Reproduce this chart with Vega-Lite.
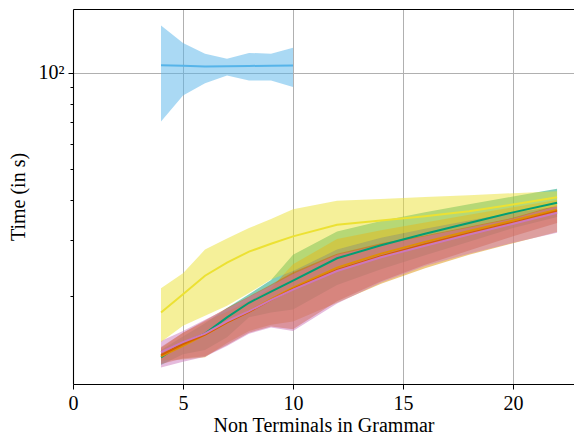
{
  "$schema": "https://vega.github.io/schema/vega-lite/v6.json",
  "autosize": "none",
  "width": 501,
  "height": 375,
  "padding": {"left": 73, "top": 9, "right": 0, "bottom": 54},
  "config": {
    "view": {"stroke": null},
    "font": "Liberation Serif",
    "axis": {"labelFont": "Liberation Serif", "titleFont": "Liberation Serif", "labelFontSize": 20, "titleFontSize": 20, "titleFontWeight": "normal", "labelColor": "black", "titleColor": "black", "domainColor": "black", "tickColor": "black", "gridColor": "#b0b0b0", "gridWidth": 1, "domainWidth": 1.1, "labelFlush": false}
  },
  "data": {"values": [
    {"s":"a","x":4,"m":12.9,"lo":12.2,"hi":13.6},
    {"s":"a","x":5,"m":14.3,"lo":13.2,"hi":15.0},
    {"s":"a","x":6,"m":15.3,"lo":13.6,"hi":16.5},
    {"s":"a","x":7,"m":17.2,"lo":14.9,"hi":18.4},
    {"s":"a","x":8,"m":19.1,"lo":17.2,"hi":20.3},
    {"s":"a","x":9,"m":20.7,"lo":17.8,"hi":22.5},
    {"s":"a","x":10,"m":22.4,"lo":18.2,"hi":27.0},
    {"s":"a","x":12,"m":26.3,"lo":21.7,"hi":31.9},
    {"s":"a","x":14,"m":28.9,"lo":24.3,"hi":34.4},
    {"s":"a","x":16,"m":31.4,"lo":26.9,"hi":36.6},
    {"s":"a","x":18,"m":33.9,"lo":29.6,"hi":38.8},
    {"s":"a","x":20,"m":36.6,"lo":32.7,"hi":41.0},
    {"s":"a","x":22,"m":39.2,"lo":35.4,"hi":43.4},
    {"s":"b","x":4,"m":13.0,"lo":12.6,"hi":13.8},
    {"s":"b","x":5,"m":14.0,"lo":12.7,"hi":15.4},
    {"s":"b","x":6,"m":15.2,"lo":12.9,"hi":16.7},
    {"s":"b","x":7,"m":16.6,"lo":14.3,"hi":17.9},
    {"s":"b","x":8,"m":18.0,"lo":15.6,"hi":19.3},
    {"s":"b","x":9,"m":19.6,"lo":16.3,"hi":21.2},
    {"s":"b","x":10,"m":21.3,"lo":16.7,"hi":25.2},
    {"s":"b","x":12,"m":24.6,"lo":19.1,"hi":30.2},
    {"s":"b","x":14,"m":27.2,"lo":21.9,"hi":32.2},
    {"s":"b","x":16,"m":29.6,"lo":24.5,"hi":34.0},
    {"s":"b","x":18,"m":32.0,"lo":27.0,"hi":36.0},
    {"s":"b","x":20,"m":34.5,"lo":29.3,"hi":38.0},
    {"s":"b","x":22,"m":37.3,"lo":31.8,"hi":40.0},
    {"s":"c","x":4,"m":13.1,"lo":12.3,"hi":13.9},
    {"s":"c","x":5,"m":14.2,"lo":12.8,"hi":15.4},
    {"s":"c","x":6,"m":15.2,"lo":13.0,"hi":16.8},
    {"s":"c","x":7,"m":16.6,"lo":14.1,"hi":18.4},
    {"s":"c","x":8,"m":17.9,"lo":15.4,"hi":20.0},
    {"s":"c","x":9,"m":19.5,"lo":16.1,"hi":21.8},
    {"s":"c","x":10,"m":21.1,"lo":15.8,"hi":23.8},
    {"s":"c","x":12,"m":24.2,"lo":19.3,"hi":27.2},
    {"s":"c","x":14,"m":26.7,"lo":22.3,"hi":29.3},
    {"s":"c","x":16,"m":29.1,"lo":25.1,"hi":31.0},
    {"s":"c","x":18,"m":31.5,"lo":27.8,"hi":33.0},
    {"s":"c","x":20,"m":34.0,"lo":30.8,"hi":35.2},
    {"s":"c","x":22,"m":36.9,"lo":33.9,"hi":38.5},
    {"s":"d","x":4,"m":13.4,"lo":12.0,"hi":14.5},
    {"s":"d","x":5,"m":14.4,"lo":12.5,"hi":15.6},
    {"s":"d","x":6,"m":15.3,"lo":12.95,"hi":16.9},
    {"s":"d","x":7,"m":16.7,"lo":14.0,"hi":18.3},
    {"s":"d","x":8,"m":18.0,"lo":15.3,"hi":19.9},
    {"s":"d","x":9,"m":19.5,"lo":16.0,"hi":21.6},
    {"s":"d","x":10,"m":21.0,"lo":15.6,"hi":23.5},
    {"s":"d","x":12,"m":24.0,"lo":19.0,"hi":27.0},
    {"s":"d","x":14,"m":26.5,"lo":22.1,"hi":29.0},
    {"s":"d","x":16,"m":28.8,"lo":24.9,"hi":30.8},
    {"s":"d","x":18,"m":31.2,"lo":27.2,"hi":32.8},
    {"s":"d","x":20,"m":33.7,"lo":29.4,"hi":35.0},
    {"s":"d","x":22,"m":36.5,"lo":31.6,"hi":38.3},
    {"s":"e","x":4,"m":17.8,"lo":14.4,"hi":21.2},
    {"s":"e","x":5,"m":20.3,"lo":16.2,"hi":23.6},
    {"s":"e","x":6,"m":23.2,"lo":17.4,"hi":28.0},
    {"s":"e","x":7,"m":25.5,"lo":18.7,"hi":30.3},
    {"s":"e","x":8,"m":27.6,"lo":20.5,"hi":32.7},
    {"s":"e","x":9,"m":29.2,"lo":22.6,"hi":34.9},
    {"s":"e","x":10,"m":30.8,"lo":24.0,"hi":37.4},
    {"s":"e","x":12,"m":33.5,"lo":28.0,"hi":39.8},
    {"s":"e","x":14,"m":34.5,"lo":30.5,"hi":40.3},
    {"s":"e","x":16,"m":35.6,"lo":32.5,"hi":40.9},
    {"s":"e","x":18,"m":36.9,"lo":34.5,"hi":41.4},
    {"s":"e","x":20,"m":38.7,"lo":36.5,"hi":42.0},
    {"s":"e","x":22,"m":40.8,"lo":38.2,"hi":42.6},
    {"s":"f","x":4,"m":105.4,"lo":70.4,"hi":140.3},
    {"s":"f","x":5,"m":105.0,"lo":84.8,"hi":123.8},
    {"s":"f","x":6,"m":104.5,"lo":92.7,"hi":114.6},
    {"s":"f","x":7,"m":104.6,"lo":97.9,"hi":110.4},
    {"s":"f","x":8,"m":104.9,"lo":94.4,"hi":115.2},
    {"s":"f","x":9,"m":105.1,"lo":94.4,"hi":114.6},
    {"s":"f","x":10,"m":105.3,"lo":90.2,"hi":119.5}
  ]},
  "resolve": {"axis": {"x": "independent", "y": "independent"}},
  "layer": [
    {
      "mark": {"type": "area", "opacity": 0.5, "interpolate": "linear"},
      "encoding": {
        "x": {"field": "x", "type": "quantitative", "scale": {"domain": [0, 22.77], "nice": false, "zero": false},
              "axis": {"values": [0, 5, 10, 15, 20], "grid": true, "tickSize": 5, "labelPadding": 4, "title": "Non Terminals in Grammar", "titleBaseline": "alphabetic", "titleY": 47, "labelAngle": 0}},
        "y": {"field": "lo", "type": "quantitative", "scale": {"type": "log", "domain": [10.65, 158], "nice": false},
              "axis": {"values": [100], "labelExpr": "'10²'", "grid": true, "tickSize": 5, "labelPadding": 4, "title": "Time (in s)", "titleX": -55, "titleBaseline": "middle"}},
        "y2": {"field": "hi"},
        "color": {"field": "s", "type": "nominal", "legend": null,
                  "scale": {"domain": ["a","b","c","d","e","f"], "range": ["#029E73","#DE8F05","#D55E00","#CC78BC","#ECE133","#56B4E9"]}}
      }
    },
    {
      "mark": {"type": "line", "strokeWidth": 2},
      "encoding": {
        "x": {"field": "x", "type": "quantitative", "axis": {"orient": "top", "labels": false, "ticks": false, "grid": false, "title": null, "domain": true}},
        "y": {"field": "m", "type": "quantitative", "axis": {"orient": "left", "values": [20, 30, 40, 50, 60, 70, 80, 90], "labels": false, "grid": false, "tickSize": 3, "domain": false, "title": null}},
        "color": {"field": "s", "type": "nominal", "legend": null}
      }
    }
  ]
}
